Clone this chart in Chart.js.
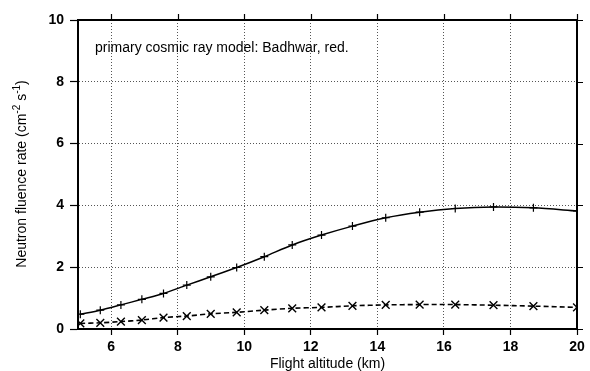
<!DOCTYPE html>
<html>
<head>
<meta charset="utf-8">
<script src="https://cdn.jsdelivr.net/npm/chart.js@4/dist/chart.umd.min.js"></script>
<style>
  body { margin: 0; background: #fff; }
  #wrap { width: 590px; height: 371px; }
</style>
</head>
<body>
<div id="wrap"><canvas id="fluenceChart"></canvas></div>
<script>
// flight altitudes (km) where the model was evaluated
const altitudes = [5.07, 5.67, 6.29, 6.92, 7.57, 8.27, 8.99, 9.77, 10.6, 11.44, 12.32, 13.25, 14.25, 15.27, 16.34, 17.49, 18.69, 20.0];
// neutron fluence rates, cm^-2 s^-1
const totalRate = [0.48, 0.61, 0.78, 0.96, 1.15, 1.42, 1.69, 1.99, 2.34, 2.72, 3.04, 3.33, 3.60, 3.78, 3.90, 3.95, 3.92, 3.82];
const lowerRate = [0.18, 0.20, 0.24, 0.29, 0.37, 0.42, 0.49, 0.54, 0.61, 0.67, 0.70, 0.75, 0.78, 0.79, 0.79, 0.77, 0.74, 0.70];

const xTicks = [6, 8, 10, 12, 14, 16, 18, 20];
const yTicks = [0, 2, 4, 6, 8, 10];

const FONT = "'Liberation Sans', Arial, Helvetica, sans-serif";

function toPoints(ys) {
  return altitudes.map((x, i) => ({ x: x, y: ys[i] }));
}

// bottom / left axes: dotted grid, outward ticks, solid frame line
function axis(pos, ticks, size) {
  const horizontal = pos === "bottom";
  return {
    type: "linear",
    position: pos,
    min: horizontal ? 5 : 0,
    max: horizontal ? 20 : 10,
    afterBuildTicks: (s) => { s.ticks = ticks.map((v) => ({ value: v })); },
    afterFit: (s) => { if (horizontal) s.height = size; else s.width = size; },
    ticks: {
      color: "#000",
      padding: horizontal ? 4 : 6,
      font: { family: FONT, size: 14, weight: "bold" },
      autoSkip: false,
      maxRotation: 0,
    },
    grid: {
      color: "#555",
      lineWidth: 1,
      tickLength: horizontal ? 6 : 8,
      tickColor: "#000",
      tickWidth: 1.2,
      tickBorderDash: [],
    },
    border: { display: true, color: "#000", width: 2, dash: [1, 2] },
  };
}

// top and right frame lines with outward ticks mirrored from the x / y scales
const framePlugin = {
  id: "frame",
  afterDraw(chart) {
    const ctx = chart.ctx;
    const a = chart.chartArea;
    const xs = chart.scales.x;
    const ys = chart.scales.y;
    ctx.save();
    ctx.strokeStyle = "#000";
    ctx.lineWidth = 2;
    ctx.beginPath();
    ctx.moveTo(a.left - 1, a.top);
    ctx.lineTo(a.right, a.top);
    ctx.lineTo(a.right, a.bottom + 1);
    ctx.stroke();
    ctx.lineWidth = 1.2;
    ctx.beginPath();
    xTicks.forEach((v) => {
      const px = Math.round(xs.getPixelForValue(v)) + 0.5;
      ctx.moveTo(px, a.top);
      ctx.lineTo(px, a.top - 6);
    });
    yTicks.forEach((v) => {
      const py = Math.round(ys.getPixelForValue(v)) + 0.5;
      ctx.moveTo(a.right, py);
      ctx.lineTo(a.right + 6, py);
    });
    ctx.stroke();
    ctx.restore();
  },
};

// axis titles and the model note
const textPlugin = {
  id: "labels",
  afterDraw(chart) {
    const ctx = chart.ctx;
    const area = chart.chartArea;
    ctx.save();
    ctx.fillStyle = "#000";

    ctx.font = "14px " + FONT;
    ctx.textBaseline = "middle";
    ctx.textAlign = "left";
    ctx.fillText("primary cosmic ray model: Badhwar, red.", 95, 48);

    ctx.textAlign = "center";
    ctx.fillText("Flight altitude (km)", (area.left + area.right) / 2, 364);

    // y title with superscripts, rotated
    const parts = [
      ["Neutron fluence rate (cm", false],
      ["-2", true],
      [" s", false],
      ["-1", true],
      [")", false],
    ];
    const big = "14px " + FONT;
    const small = "10px " + FONT;
    let total = 0;
    parts.forEach(([t, sup]) => {
      ctx.font = sup ? small : big;
      total += ctx.measureText(t).width;
    });
    ctx.translate(22, 174);
    ctx.rotate(-Math.PI / 2);
    ctx.textAlign = "left";
    let x = -total / 2;
    parts.forEach(([t, sup]) => {
      ctx.font = sup ? small : big;
      ctx.fillText(t, x, sup ? -5 : 0);
      x += ctx.measureText(t).width;
    });
    ctx.restore();
  },
};

new Chart(document.getElementById("fluenceChart"), {
  type: "line",
  data: {
    datasets: [
      {
        data: toPoints(totalRate),
        borderColor: "#000",
        borderWidth: 1.5,
        tension: 0.3,
        pointStyle: "cross",
        pointRadius: 4,
        pointBorderWidth: 1.2,
        pointBorderColor: "#000",
      },
      {
        data: toPoints(lowerRate),
        borderColor: "#000",
        borderWidth: 1.6,
        borderDash: [5, 3],
        tension: 0.3,
        pointStyle: "crossRot",
        pointRadius: 5.5,
        pointBorderWidth: 1.4,
        pointBorderColor: "#000",
      },
    ],
  },
  options: {
    responsive: true,
    maintainAspectRatio: false,
    animation: false,
    layout: { padding: { top: 20, right: 13, left: 0, bottom: 0 } },
    plugins: { legend: { display: false }, tooltip: { enabled: false } },
    scales: {
      x: axis("bottom", xTicks, 42),
      y: axis("left", yTicks, 78),
    },
  },
  plugins: [framePlugin, textPlugin],
});
</script>
</body>
</html>
